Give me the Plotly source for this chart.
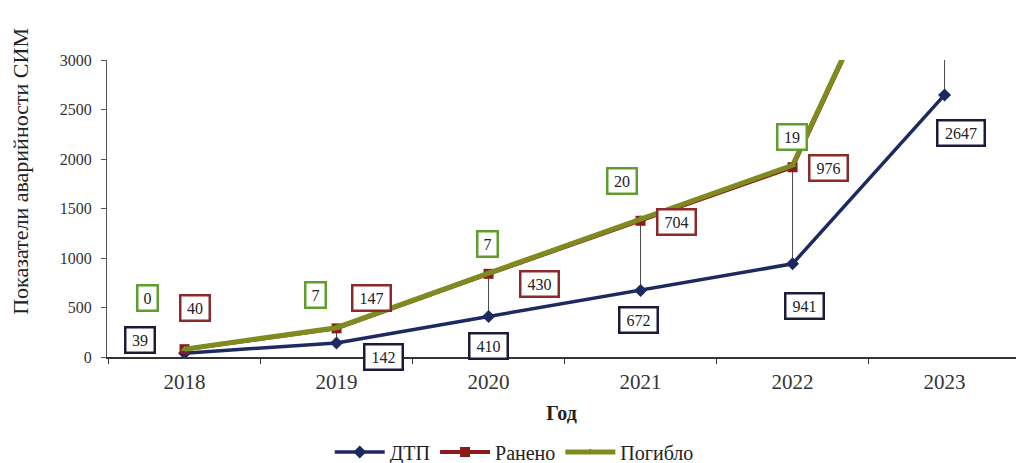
import numpy as np
import plotly.graph_objects as go

# Показатели аварийности СИМ по годам
years = ["2018", "2019", "2020", "2021", "2022", "2023"]
dtp = [39, 142, 410, 672, 941, 2647]
injured = [40, 147, 430, 704, 976, 2560]
killed = [0, 7, 7, 20, 19, 19]

series_names = ["ДТП", "Ранено", "Погибло"]
line_colors = ["#1d2a62", "#8b1c1c", "#7f8b1f"]
box_colors = ["#1c1c3a", "#8b2a2a", "#5f9e2e"]
markers = ["diamond", "square", "triangle-up"]
line_widths = [3.5, 4, 5]
marker_sizes = [10, 10, 7]

# label offsets in pixels (x, y) for each series / year
offsets = [
    [(-45, 13), (47, -14), (0, -30), (-2, -30), (12, -42), (16, -38)],
    [(10, 41), (35, 30), (51, -10), (36, -1), (36, -1), (0, 0)],
    [(-37, 51), (-21, 33), (-1, 29), (-19, 38), (-1, 28), (0, 0)],
]

values = [dtp, injured, killed]
cum = np.cumsum(np.array(values, dtype=float), axis=0)
Y_MAX = 3000

serif = "Liberation Serif, Times New Roman, serif"
fig = go.Figure()

# vertical drop lines between the lowest and highest series
dx, dy = [], []
for i, yr in enumerate(years):
    dx += [yr, yr, None]
    dy += [cum[0][i], cum[-1][i], None]
fig.add_trace(go.Scatter(x=dx, y=dy, mode="lines",
                         line=dict(color="#4a4a4a", width=1),
                         showlegend=False, hoverinfo="skip"))

for k, name in enumerate(series_names):
    fig.add_trace(go.Scatter(
        x=years, y=values[k], name=name, stackgroup="one", fill="none",
        mode="lines+markers",
        line=dict(color=line_colors[k], width=line_widths[k]),
        marker=dict(symbol=markers[k], size=marker_sizes[k],
                    color=line_colors[k]),
    ))

# boxed value labels
for k in range(3):
    for i in range(len(years)):
        if cum[k][i] > Y_MAX:
            continue
        ox, oy = offsets[k][i]
        txt = str(values[k][i])
        fig.add_annotation(
            x=i, y=float(cum[k][i]), text=txt, showarrow=False,
            xshift=ox, yshift=oy, width=9 * len(txt) + 3,
            font=dict(family=serif, size=16, color="#222222"),
            bgcolor="white", bordercolor=box_colors[k], borderwidth=2.5,
            borderpad=3,
        )

# y-axis title
fig.add_annotation(
    text="Показатели аварийности СИМ", textangle=-90, showarrow=False,
    xref="paper", yref="paper", x=-0.096, y=0.626,
    xanchor="center", yanchor="middle",
    font=dict(family=serif, size=22, color="#222222"),
)

fig.update_layout(
    width=1016, height=463,
    margin=dict(l=107, r=0, t=60, b=106, autoexpand=False),
    paper_bgcolor="white", plot_bgcolor="white",
    font=dict(family=serif, color="#222222"),
    showlegend=True,
    legend=dict(orientation="h", x=0.448, xanchor="center",
                y=-0.32, yanchor="middle",
                font=dict(family=serif, size=20),
                traceorder="normal", itemwidth=50),
)
fig.update_xaxes(
    type="category", range=[-0.51, 5.47],
    showline=True, linecolor="#333333", linewidth=1.5,
    ticks="outside", tickson="boundaries", ticklen=5, tickcolor="#333333",
    showgrid=False, zeroline=False, ticklabelstandoff=5,
    tickfont=dict(family=serif, size=21, color="#333333"),
    title=dict(text="<b>Год</b>", font=dict(family=serif, size=20, color="#222222"),
               standoff=13),
)
fig.update_yaxes(
    range=[0, Y_MAX], tickvals=[0, 500, 1000, 1500, 2000, 2500, 3000],
    showline=True, linecolor="#555555", linewidth=1,
    ticks="outside", ticklen=5, tickcolor="#555555",
    showgrid=False, zeroline=False, ticklabelstandoff=6,
    tickfont=dict(family=serif, size=16, color="#333333"),
)

fig.write_html("out.html")
